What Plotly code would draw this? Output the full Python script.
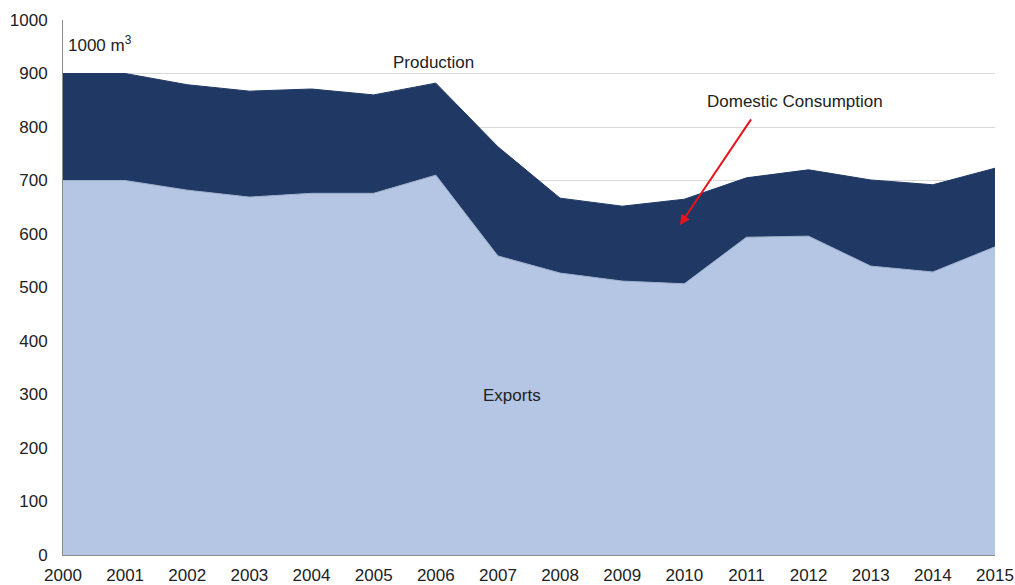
import plotly.graph_objects as go

years = list(range(2000, 2016))
production = [900, 900, 879, 867, 871, 860, 882, 763, 667, 652, 665, 705, 720, 701, 692, 723]
exports = [700, 700, 682, 669, 676, 676, 710, 559, 527, 512, 507, 594, 596, 540, 529, 576]
y_ticks = list(range(0, 1001, 100))

FONT = "Liberation Sans, Arial, sans-serif"

fig = go.Figure()
fig.add_trace(go.Scatter(x=years, y=exports, mode="lines", fill="tozeroy",
                         fillcolor="#b4c6e4", line=dict(color="#9fb0cc", width=1),
                         name="Exports", hoverinfo="x+y"))
fig.add_trace(go.Scatter(x=years, y=production, mode="lines", fill="tonexty",
                         fillcolor="#1f3864", line=dict(color="#1f3864", width=1),
                         name="Production", hoverinfo="x+y"))

font_txt = dict(family=FONT, size=17, color="#222222")
fig.add_annotation(x=2000.05, y=955, text="1000 m<sup>3</sup>", showarrow=False,
                   xanchor="left", font=font_txt)
fig.add_annotation(x=2005.96, y=920, text="Production", showarrow=False, font=font_txt)
fig.add_annotation(x=2011.78, y=847, text="Domestic Consumption", showarrow=False, font=font_txt)
fig.add_annotation(x=2007.23, y=299, text="Exports", showarrow=False, font=font_txt)
fig.add_annotation(x=2009.93, y=617, ax=2011.09, ay=817, axref="x", ayref="y",
                   xref="x", yref="y", text="", showarrow=True, arrowhead=2,
                   arrowsize=1, arrowwidth=2, arrowcolor="#e8141c")

fig.update_layout(
    width=1015, height=585,
    margin=dict(l=63, r=20, t=20, b=30, autoexpand=False),
    paper_bgcolor="white", plot_bgcolor="white",
    showlegend=False,
    font=dict(family=FONT, size=17, color="#333333"),
)
fig.update_xaxes(range=[2000, 2015], tickvals=years, ticktext=[str(y) for y in years],
                 showgrid=False, showline=True, linecolor="#8c8c8c", linewidth=1,
                 ticks="", zeroline=False, automargin=False, ticklabelstandoff=5,
                 tickfont=dict(family=FONT, size=17, color="#222222"))
fig.update_yaxes(range=[0, 1000], tickvals=y_ticks, showgrid=True, gridcolor="#d9d9d9",
                 showline=True, linecolor="#8c8c8c", linewidth=1, ticks="",
                 zeroline=False, automargin=False,
                 tickfont=dict(family=FONT, size=17, color="#222222"), ticklabelstandoff=11)

fig.write_html("out.html", config={"displayModeBar": False},
               post_script="document.body.style.margin='0';document.body.style.overflow='hidden';")
